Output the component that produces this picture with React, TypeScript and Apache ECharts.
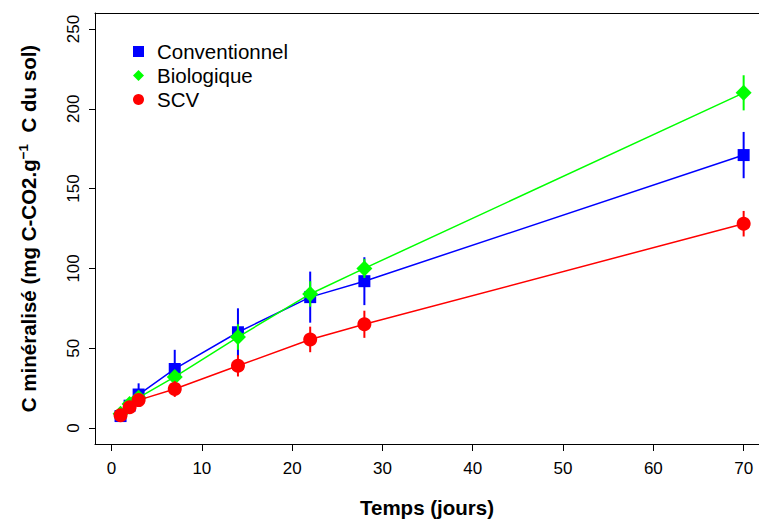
import React, { useEffect, useRef } from "react";
import * as echarts from "echarts";

const days = [1, 2, 3, 7, 14, 22, 28, 70];
const conventionnel = [7.5, 14, 21, 37, 60, 82, 92, 171];
const conventionnelErr = [3, 3, 7, 12, 15, 16, 15, 14.5];
const biologique = [9, 15, 19, 32, 57, 84, 100, 210];
const biologiqueErr = [2, 2, 3, 4, 8, 8, 6, 11];
const scv = [8, 13, 17.5, 24.5, 39, 55.5, 65, 128];
const scvErr = [1.5, 2, 2.5, 5, 6.7, 8, 8.5, 8];
const xTicks = [0, 10, 20, 30, 40, 50, 60, 70];
const yTicks = [0, 50, 100, 150, 200, 250];

const FONT = "Liberation Sans";

function errSeries(name: string, vals: number[], errs: number[], color: string, z: number) {
  return {
    type: "custom",
    name: name + "_err",
    z,
    silent: true,
    data: days.map((d, i) => [d, vals[i] - errs[i], vals[i] + errs[i]]),
    encode: { x: 0, y: [1, 2] },
    renderItem: (params: any, api: any) => {
      const p1 = api.coord([api.value(0), api.value(1)]);
      const p2 = api.coord([api.value(0), api.value(2)]);
      return {
        type: "line",
        shape: { x1: p1[0], y1: p1[1], x2: p2[0], y2: p2[1] },
        style: { stroke: color, lineWidth: 2 },
      };
    },
  };
}

function lineSeries(name: string, vals: number[], color: string, symbol: string, size: number, z: number) {
  return {
    type: "line",
    name,
    z,
    data: days.map((d, i) => [d, vals[i]]),
    symbol,
    symbolSize: size,
    showAllSymbol: true,
    lineStyle: { color, width: 1.5 },
    itemStyle: { color, borderWidth: 0 },
  };
}

export default function App() {
  const ref = useRef<HTMLDivElement>(null);
  useEffect(() => {
    if (!ref.current) return;
    const chart = echarts.init(ref.current, undefined, { renderer: "svg" });
    chart.setOption({
      animation: false,
      backgroundColor: "#fff",
      textStyle: { fontFamily: FONT },
      grid: {
        left: 95,
        right: 0,
        top: 13,
        bottom: 77,
        show: false,
        containLabel: false,
        outerBoundsMode: "none",
      },
      legend: {
        orient: "vertical",
        left: 128,
        top: 36,
        itemWidth: 11,
        itemHeight: 11,
        itemGap: 3,
        textStyle: { fontSize: 20.5, color: "#000", fontFamily: FONT, padding: [0, 0, 0, 8] },
        data: [
          { name: "Conventionnel", icon: "rect", itemStyle: { color: "#0000ff" } },
          { name: "Biologique", icon: "diamond", itemStyle: { color: "#00ff00" } },
          { name: "SCV", icon: "circle", itemStyle: { color: "#ff0000" } },
        ],
      },
      xAxis: [
        {
          type: "value",
          min: -1.83,
          max: 71.7,
          name: "Temps (jours)",
          nameLocation: "middle",
          nameGap: 53,
          nameTextStyle: { fontSize: 20.5, fontWeight: "bold", color: "#000", fontFamily: FONT },
          axisLine: { show: true, onZero: false, lineStyle: { color: "#000", width: 1 } },
          splitLine: { show: false },
          axisTick: { show: true, length: 7, lineStyle: { color: "#000" }, customValues: xTicks },
          axisLabel: { fontSize: 17, color: "#000", margin: 16, customValues: xTicks, fontFamily: FONT },
        },
        {
          type: "value",
          position: "top",
          min: -1.83,
          max: 71.7,
          axisLine: { show: true, onZero: false, lineStyle: { color: "#000", width: 1 } },
          splitLine: { show: false },
          axisTick: { show: false },
          axisLabel: { show: false },
        },
      ],
      yAxis: {
        type: "value",
        min: -10,
        max: 260,
        name: "{b|C minéralisé (mg C-CO2.g}{s|−1}{b|  C du sol)}",
        nameLocation: "middle",
        nameGap: 55,
        nameRotate: 90,
        nameTextStyle: {
          color: "#000",
          fontFamily: FONT,
          rich: {
            b: { fontSize: 20.5, fontWeight: "bold", color: "#000", fontFamily: FONT, lineHeight: 24 },
            s: { fontSize: 13.5, fontWeight: "bold", color: "#000", fontFamily: FONT, verticalAlign: "top", lineHeight: 24 },
          },
        },
        axisLine: { show: true, onZero: false, lineStyle: { color: "#000", width: 1 } },
        splitLine: { show: false },
        axisTick: { show: true, length: 6, lineStyle: { color: "#000" }, customValues: yTicks },
        axisLabel: { fontSize: 17, color: "#000", margin: 13, rotate: 90, customValues: yTicks, fontFamily: FONT },
      },
      series: [
        errSeries("Conventionnel", conventionnel, conventionnelErr, "#0000ff", 2),
        lineSeries("Conventionnel", conventionnel, "#0000ff", "rect", 12, 3),
        errSeries("Biologique", biologique, biologiqueErr, "#00ff00", 4),
        lineSeries("Biologique", biologique, "#00ff00", "diamond", 16, 5),
        errSeries("SCV", scv, scvErr, "#ff0000", 6),
        lineSeries("SCV", scv, "#ff0000", "circle", 14, 7),
      ],
    });
    return () => chart.dispose();
  }, []);
  return (
    <div
      ref={ref}
      style={{ position: "fixed", left: 0, top: 0, width: 759, height: 521 }}
    />
  );
}
